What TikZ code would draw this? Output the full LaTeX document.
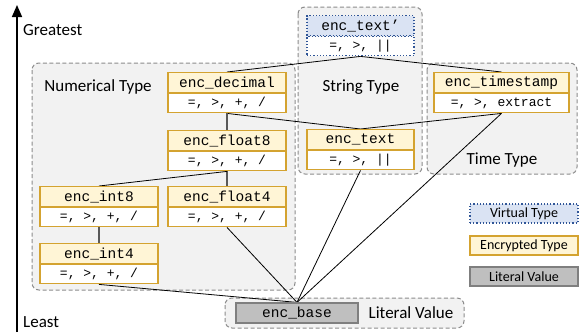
\documentclass[tikz,border=0pt]{standalone}
\usepackage{fontspec}
\setmainfont{Carlito}
\setmonofont{Liberation Mono}
\usetikzlibrary{arrows.meta}
\pgfdeclarelayer{back}
\pgfdeclarelayer{mid}
\pgfsetlayers{back,mid,main}
\definecolor{yfill}{RGB}{255,245,214}
\definecolor{ydraw}{RGB}{212,163,48}
\definecolor{bfill}{RGB}{218,227,243}
\definecolor{bdraw}{RGB}{47,85,151}
\definecolor{lfill}{RGB}{191,191,191}
\definecolor{ldraw}{RGB}{127,127,127}
\definecolor{gfill}{RGB}{242,242,242}
\definecolor{gdraw}{RGB}{140,140,140}
\tikzset{
  grp/.style={draw=gdraw, dash pattern=on 4pt off 2.5pt, fill=gfill, line width=1pt, rounded corners=7pt},
  enchead/.style={draw=ydraw, fill=yfill, line width=1.2pt, minimum height=20pt, inner sep=0pt, font=\fontsize{14.5}{16}\ttfamily},
  encbody/.style={draw=ydraw, fill=white, line width=1.2pt, minimum height=19pt, inner sep=0pt, font=\fontsize{13}{15}\ttfamily},
  virhead/.style={draw=bdraw, fill=bfill, dotted, line width=1.2pt, minimum height=20pt, inner sep=0pt, font=\fontsize{14.5}{16}\ttfamily},
  virbody/.style={draw=bdraw, fill=white, dotted, line width=1.2pt, minimum height=19pt, inner sep=0pt, font=\fontsize{13}{15}\ttfamily},
  litbox/.style={draw=ldraw, fill=lfill, line width=1.2pt, minimum height=20pt, inner sep=0pt, font=\fontsize{14.5}{16}\ttfamily},
  grplabel/.style={font=\fontsize{17}{20}\selectfont, inner sep=0pt},
  legbox/.style={minimum width=108pt, minimum height=19pt, inner sep=0pt, line width=1.2pt, font=\fontsize{14}{16}\selectfont},
  edge/.style={black, line width=0.8pt},
  vedge/.style={black!65, line width=1.5pt},
}
\newcommand{\tbox}[7]{%
  \node[#7head, minimum width=#4pt, anchor=north] (#1) at (#2,#3) {#5};
  \node[#7body, minimum width=#4pt, anchor=north] (#1b) at (#1.south) {#6};
}
\begin{document}
\begin{tikzpicture}[x=1pt, y=-1pt]
\useasboundingbox (0,0) rectangle (581,333);
% groups
\begin{pgfonlayer}{back}
\draw[grp] (32,63) rectangle (295,290);
\draw[grp] (298,7) rectangle (422,174);
\draw[grp] (427,63) rectangle (577,174);
\draw[grp] (225,298) rectangle (464,328);
\end{pgfonlayer}
% axis
\coordinate (axb) at (17,332);
\coordinate (axt) at (17,5);
\draw[line width=1.6pt, -{Triangle[length=12pt, width=10pt]}] (axb) -- (axt);
\node[grplabel, anchor=west] (greatest) at (23,30) {Greatest};
\node[grplabel, anchor=west] (least) at (23,322) {Least};
% group labels
\node[grplabel] (lnum) at (98,87) {Numerical Type};
\node[grplabel] (lstr) at (361,87) {String Type};
\node[grplabel] (ltim) at (502,160) {Time Type};
\node[grplabel] (llit) at (411,313) {Literal Value};
% type boxes
\tbox{txtp}{360.5}{15}{107}{enc\_text’}{=, >, ||}{vir}
\tbox{dec}{227}{72}{118}{enc\_decimal}{=, >, +, /}{enc}
\tbox{fleight}{227}{130}{118}{enc\_float8}{=, >, +, /}{enc}
\tbox{flfour}{227}{186}{118}{enc\_float4}{=, >, +, /}{enc}
\tbox{ieight}{99}{186}{118}{enc\_int8}{=, >, +, /}{enc}
\tbox{ifour}{99}{243}{118}{enc\_int4}{=, >, +, /}{enc}
\tbox{txt}{360.5}{129}{107}{enc\_text}{=, >, ||}{enc}
\tbox{ts}{501.5}{72}{135}{enc\_timestamp}{=, >, extract}{enc}
\node[litbox, minimum width=122pt] (base) at (297,313) {enc\_base};
% legend
\node[legbox, draw=bdraw, fill=bfill, dotted] (legv) at (524,213.5) {Virtual Type};
\node[legbox, draw=ydraw, fill=yfill] (lege) at (524,245.5) {Encrypted Type};
\node[legbox, draw=ldraw, fill=lfill] (legl) at (524,276.5) {Literal Value};
% edges
\begin{pgfonlayer}{mid}
\draw[edge] (txtpb.south) -- (dec.north);
\draw[edge] (txtpb.south) -- (ts.north);
\draw[edge] (decb.south) -- (txt.north);
\draw[edge] (tsb.south) -- (txt.north);
\draw[vedge] (decb.south) -- (fleight.north);
\draw[vedge] (fleightb.south) -- (flfour.north);
\draw[edge] (fleightb.south) -- (ieight.north);
\draw[vedge] (ieightb.south) -- (ifour.north);
\draw[edge] (ifourb.south) -- (base.north);
\draw[edge] (flfourb.south) -- (base.north);
\draw[edge] (txtb.south) -- (base.north);
\draw[edge] (tsb.south) -- (base.north);
\end{pgfonlayer}
\end{tikzpicture}
\end{document}
